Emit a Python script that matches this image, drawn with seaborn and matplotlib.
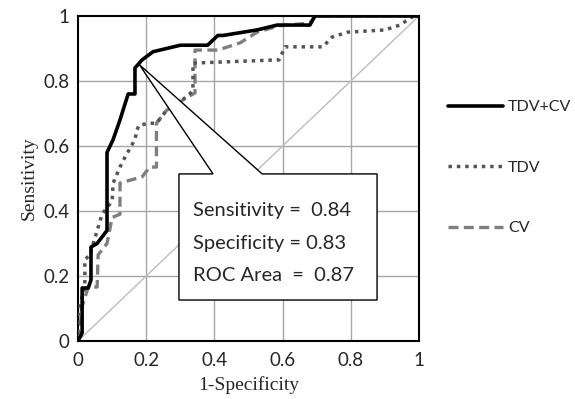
import matplotlib
matplotlib.use("Agg")
import matplotlib.pyplot as plt
from matplotlib.patches import Polygon
from matplotlib.lines import Line2D
import seaborn as sns
import pandas as pd

# ROC curves (x = 1-specificity, y = sensitivity)
combo_fpr = [0, 0.012, 0.012, 0.03, 0.038, 0.038, 0.056, 0.085, 0.085, 0.103, 0.123,
             0.147, 0.167, 0.167, 0.188, 0.22, 0.30, 0.38, 0.41, 0.425, 0.525, 0.584,
             0.68, 0.695, 1.0]
combo_tpr = [0, 0.025, 0.163, 0.163, 0.188, 0.289, 0.30, 0.34, 0.58, 0.62, 0.68,
             0.76, 0.76, 0.84, 0.865, 0.89, 0.91, 0.91, 0.94, 0.94, 0.957, 0.972,
             0.972, 1.0, 1.0]

tdv_fpr = [0, 0.0, 0.02, 0.02, 0.035, 0.056, 0.065, 0.07, 0.10, 0.103, 0.123, 0.138,
           0.167, 0.173, 0.18, 0.217, 0.23, 0.26, 0.317, 0.337, 0.337, 0.59, 0.607,
           0.718, 0.745, 0.79, 0.90, 0.944, 0.98, 1.0]
tdv_tpr = [0, 0.08, 0.17, 0.25, 0.265, 0.34, 0.37, 0.39, 0.43, 0.486, 0.535, 0.566,
           0.62, 0.65, 0.665, 0.67, 0.67, 0.71, 0.75, 0.77, 0.855, 0.865, 0.905,
           0.905, 0.935, 0.95, 0.957, 0.972, 0.997, 1.0]

cv_fpr = [0, 0.006, 0.01, 0.03, 0.056, 0.059, 0.085, 0.10, 0.123, 0.123, 0.188, 0.21,
          0.23, 0.23, 0.26, 0.32, 0.343, 0.343, 0.41, 0.475, 0.525, 0.59, 0.68, 0.695,
          1.0]
cv_tpr = [0, 0.02, 0.10, 0.166, 0.166, 0.265, 0.30, 0.38, 0.39, 0.486, 0.505, 0.535,
          0.535, 0.67, 0.71, 0.75, 0.763, 0.895, 0.895, 0.917, 0.95, 0.97, 0.978, 1.0,
          1.0]

series_names = ["TDV+CV", "TDV", "CV"]
stats_labels = ["Sensitivity =  0.84", "Specificity = 0.83", "ROC Area  =  0.87"]
ticks = [0, 0.2, 0.4, 0.6, 0.8, 1]
tick_labels = ["0", "0.2", "0.4", "0.6", "0.8", "1"]

sns.set_theme(style="white")
plt.rcParams["font.family"] = ["Lato", "DejaVu Sans"]

fig = plt.figure(figsize=(5.75, 3.99), dpi=100)
ax = fig.add_axes([0.1357, 0.1454, 0.593, 0.8146])

# grid + chance diagonal
for t in ticks[1:-1]:
    ax.axvline(t, color="#a6a6a6", lw=1.0, zorder=0)
    ax.axhline(t, color="#a6a6a6", lw=1.0, zorder=0)
ax.plot([0, 1], [0, 1], color="#bdbdbd", lw=1.0, zorder=0)

styles = {
    "TDV+CV": dict(color="black", linestyle="-", linewidth=2.6),
    "TDV": dict(color="#555555", linestyle=(0, (1, 1.4)), linewidth=2.5),
    "CV": dict(color="#7f7f7f", linestyle=(0, (3, 1.6)), linewidth=2.4),
}
curves = {"TDV+CV": (combo_fpr, combo_tpr), "TDV": (tdv_fpr, tdv_tpr), "CV": (cv_fpr, cv_tpr)}

for name in ["CV", "TDV", "TDV+CV"]:
    fpr, tpr = curves[name]
    df = pd.DataFrame({"fpr": fpr, "tpr": tpr})
    sns.lineplot(data=df, x="fpr", y="tpr", sort=False, estimator=None, ax=ax,
                 zorder=3, **styles[name])

# callout box with pointer
callout = Polygon([(0.296, 0.126), (0.296, 0.514), (0.396, 0.514), (0.18, 0.85),
                   (0.54, 0.514), (0.877, 0.514), (0.877, 0.126)],
                  closed=True, facecolor="white", edgecolor="black", lw=1.0, zorder=5)
ax.add_patch(callout)
for i, s in enumerate(stats_labels):
    ax.text(0.337, 0.40 - i * 0.10, s, fontsize=14.5, va="center", ha="left", zorder=6)

ax.set_xlim(0, 1)
ax.set_ylim(0, 1)
ax.set_xticks(ticks)
ax.set_yticks(ticks)
ax.set_xticklabels(tick_labels, fontsize=13.5)
ax.set_yticklabels(tick_labels, fontsize=13.5)
ax.tick_params(axis="x", length=0, pad=8)
ax.tick_params(axis="y", length=0, pad=6)
for sp in ax.spines.values():
    sp.set_color("black")
    sp.set_linewidth(1.5)
    sp.set_visible(True)

ax.set_xlabel("1-Specificity", family="Liberation Serif", fontsize=14, labelpad=5)
ax.set_ylabel("Sensitivity", family="Liberation Serif", fontsize=14, labelpad=4)

handles = [Line2D([], [], **styles[n]) for n in series_names]
fig.legend(handles, series_names, loc="upper left", bbox_to_anchor=(0.7545, 0.785),
           frameon=False, fontsize=11.5, handlelength=3.45, handletextpad=0.3,
           labelspacing=2.9)

fig.savefig("out.png", dpi=100)
